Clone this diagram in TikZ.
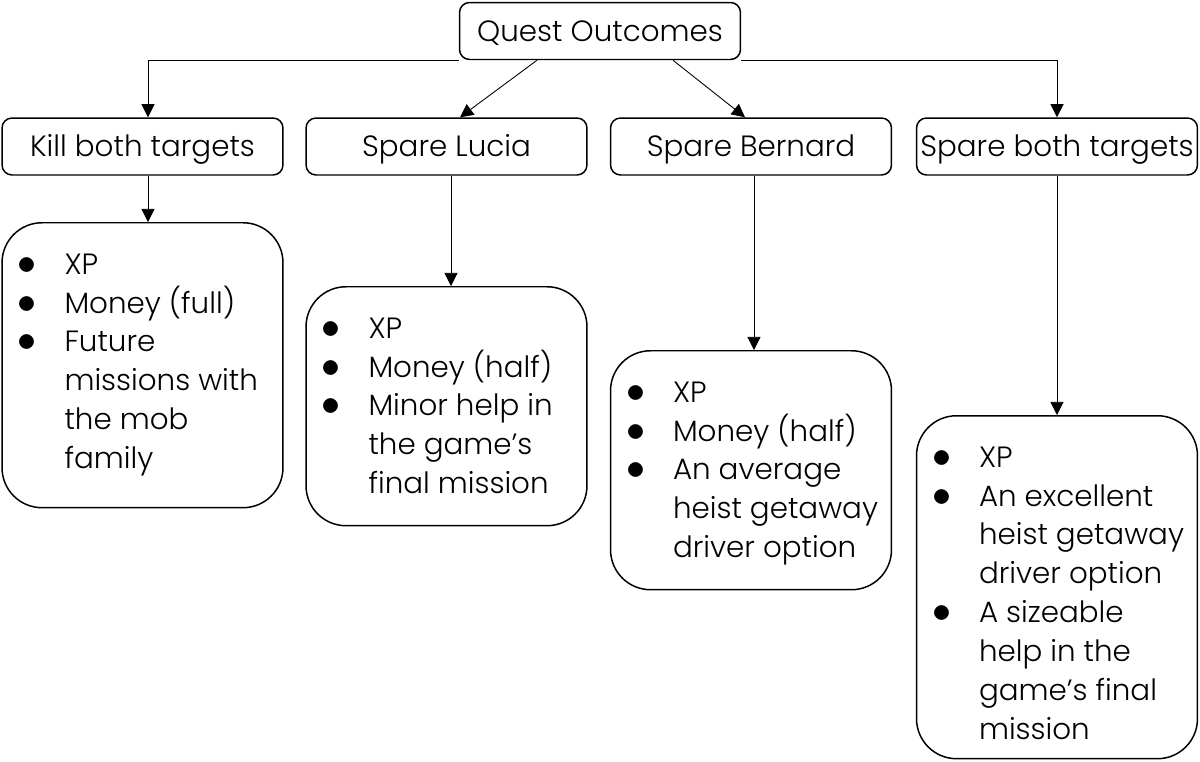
\documentclass[tikz,border=0pt]{standalone}
\usepackage{fontspec}
\setmainfont{Poppins}[UprightFont={* Light}]
\usetikzlibrary{arrows.meta}

% one bullet line, later lines hang under the text
\newcommand{\outitem}{\par\noindent\hangindent=0.94cm\hangafter=1\makebox[0.94cm][l]{\scalebox{1.25}{$\bullet$}}}
\newcommand{\nl}{\break}
% list text, top aligned in a box of given height
\newcommand{\outtext}[2]{\parbox[c][#1][t]{5.0cm}{\raggedright\hyphenpenalty=10000\hbadness=10000\hfuzz=20pt #2}}

\tikzset{
  head/.style={draw, line width=0.85pt, rounded corners=0.2cm, minimum width=5.62cm,
    minimum height=1.14cm, inner sep=1pt, text height=11.8pt, text depth=0pt,
    font=\fontsize{16.7}{22}\selectfont},
  outlist/.style={draw, line width=0.85pt, rounded corners=0.8cm, minimum width=5.62cm,
    inner xsep=0.3cm, inner ysep=0.62cm, anchor=north, font=\fontsize{16.7}{22.1}\selectfont},
  conn/.style={line width=0.5pt, -{Triangle[length=7.5pt,width=7.5pt]}}
}

\begin{document}
\begin{tikzpicture}[x=0.02cm, y=-0.02cm]
  \useasboundingbox (0,0) rectangle (1200,761);
  % top and the four choices
  \node[head] (qo) at (600,31) {Quest Outcomes};
  \node[head] (kill) at (142.5,146.5) {Kill both targets};
  \node[head] (lucia) at (446.5,146.5) {Spare Lucia};
  \node[head] (bernard) at (751,146.5) {Spare Bernard};
  \node[head] (both) at (1057,146.5) {Spare both targets};
  % what each choice gives
  \node[outlist] (killout) at (142.5,222)
    {\outtext{4.46cm}{\outitem XP\outitem Money (full)\outitem Future\nl missions with\nl the mob\nl family}};
  \node[outlist] (luciaout) at (446.5,286)
    {\outtext{3.54cm}{\outitem XP\outitem Money (half)\outitem Minor help in\nl the game’s\nl final mission}};
  \node[outlist] (bernardout) at (751,350)
    {\outtext{3.54cm}{\outitem XP\outitem Money (half)\outitem An average\nl\mbox{heist getaway}\nl driver option}};
  \node[outlist] (bothout) at (1057,415)
    {\outtext{5.62cm}{\outitem XP\outitem An excellent\nl\mbox{heist getaway}\nl driver option\outitem A sizeable\nl help in the\nl game’s final\nl mission}};
  % connectors
  \draw[conn] (qo.south west) -| ([xshift=0.11cm]kill.north);
  \draw[conn] (qo.south east) -| (both.north);
  \draw[conn] ([xshift=-1.26cm]qo.south) -- ([xshift=0.27cm]lucia.north);
  \draw[conn] ([xshift=1.46cm]qo.south) -- ([xshift=-0.12cm]bernard.north);
  \draw[conn] ([xshift=0.11cm]kill.south) -- ([xshift=0.11cm]killout.north);
  \draw[conn] ([xshift=0.09cm]lucia.south) -- ([xshift=0.09cm]luciaout.north);
  \draw[conn] ([xshift=0.06cm]bernard.south) -- ([xshift=0.06cm]bernardout.north);
  \draw[conn] (both) -- (bothout);
\end{tikzpicture}
\end{document}
